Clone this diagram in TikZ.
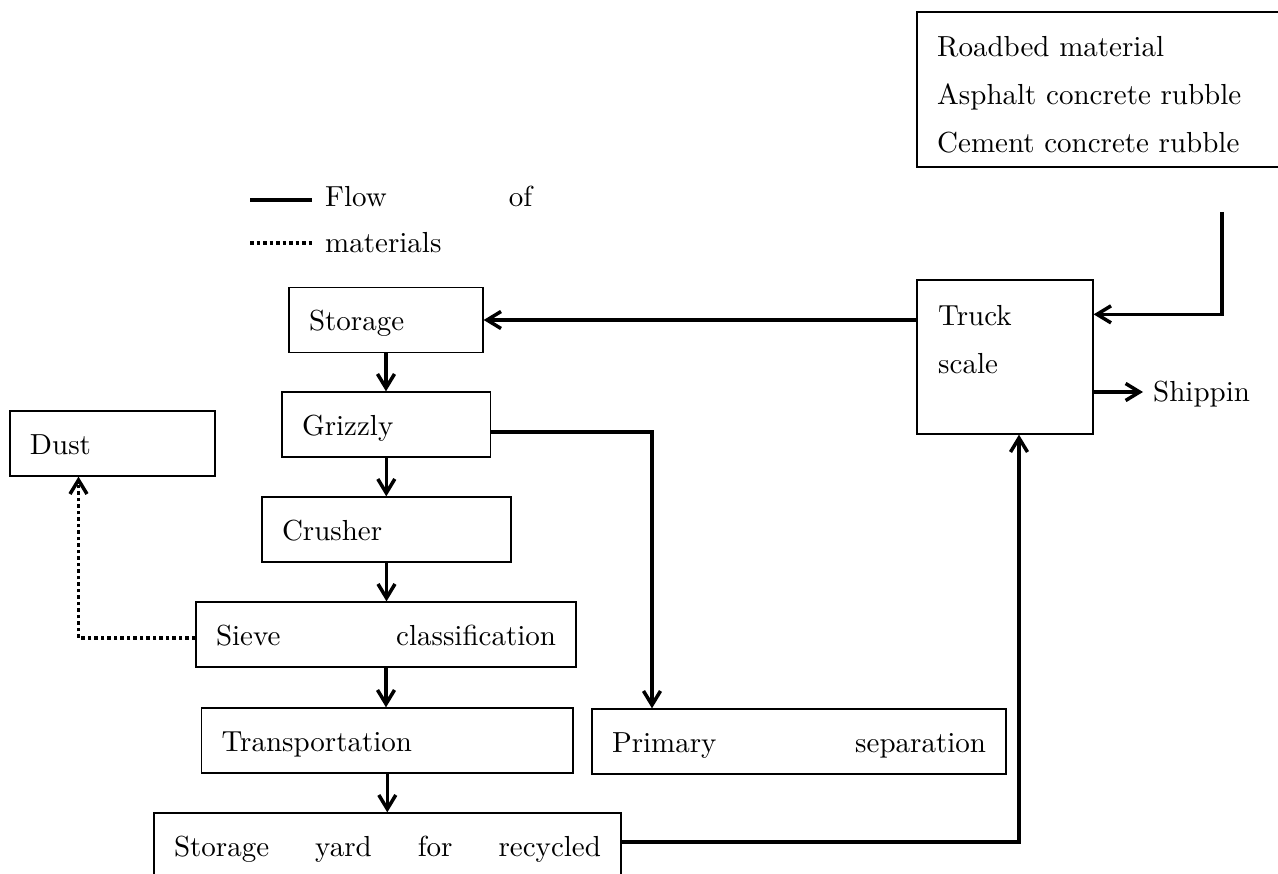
\documentclass[tikz,border=0pt]{standalone}
\usepackage{fontspec}
\setmainfont{lmroman10-regular.otf}
\usetikzlibrary{arrows.meta,calc}

\begin{document}
\begin{tikzpicture}[x=1pt,y=-1pt,
  font=\fontsize{29}{48}\selectfont,
  box/.style={draw, line width=1.3pt, inner xsep=20pt, inner ysep=0pt,
    text height=22pt, text depth=0pt, align=left, minimum height=65pt},
  txt/.style={anchor=base west, inner sep=0pt, align=left},
  barb/.style={-{Straight Barb[length=14pt,width=17pt]}},
  flow/.style={line width=3.5pt, barb},
  dotflow/.style={line width=3.5pt, dash pattern=on 3.5pt off 3pt, barb},
  dotline/.style={line width=3.5pt, dash pattern=on 3.5pt off 3pt}]

\useasboundingbox (0,0) rectangle (1278,874);
\clip (0,0) rectangle (1278,874);

% raw material box (runs past the right edge)
\node[box, text width=343pt, minimum height=155pt] (src) at (1108.5,89.5) {};
% multi-line texts: the anchor sits on the baseline of the last line
\node[txt] (srctxt) at (937,152.5)
  {Roadbed material\\Asphalt concrete rubble\\Cement concrete rubble};

% legend
\coordinate (legA) at (250,200);
\coordinate (legB) at (312,200);
\coordinate (legC) at (250,243);
\coordinate (legD) at (312,243);
\draw[line width=3.5pt] (legA) -- (legB);
\draw[dotline] (legC) -- (legD);
\node[txt] (legflow) at (325,207) {\makebox[207pt]{Flow\hfill of}};
\node[txt] (legmat) at (325,253) {materials};

% truck scale
\node[box, text width=136pt, minimum height=154pt] (truck) at (1005,357) {};
\node[txt] (trucktxt) at (938,373.5) {Truck\\scale};
\node[txt] (ship) at (1153,402) {Shippin};

% process chain
\node[box, text width=154pt] (stor) at (386,320) {Storage};
\node[box, text width=168.6pt] (griz) at (386.3,424.5) {Grizzly};
\node[box, text width=209pt] (crush) at (386.5,529.5) {Crusher};
\node[box, text width=340pt] (sieve) at (386,634.5)
  {\makebox[340pt]{Sieve\hfill classification}};
\node[box, text width=331.4pt] (trans) at (387.3,740.5) {Transportation};
\node[box, text width=427pt] (yard) at (387.5,845.5)
  {\makebox[427pt]{Storage\hfill yard\hfill for\hfill recycled}};
\node[box, text width=374pt] (prim) at (799,741.5)
  {\makebox[374pt]{Primary\hfill separation}};
\node[box, text width=165pt] (dust) at (112.5,443.5) {Dust};

% connectors
\coordinate (feed) at (1222,212);
\draw[flow] (feed) |- ($(truck.north east)+(0,35)$);
\coordinate (shipY) at (1143,392);
\draw[flow] (truck.east |- shipY) -- (shipY);
\draw[flow] (truck.west |- stor.east) -- (stor.east);

\draw[flow] (stor.south) -- (stor.south |- griz.north);
\draw[flow] (griz.south) -- (griz.south |- crush.north);
\draw[flow] (crush.south) -- (crush.south |- sieve.north);
\draw[flow] (sieve.south) -- (sieve.south |- trans.north);
\draw[flow] (trans.south) -- (trans.south |- yard.north);

\coordinate (gturn) at (652,432);
\draw[flow] (gturn -| griz.east) -| (gturn |- prim.north);

\coordinate (dturn) at (78.5,638);
\draw[dotflow] (dturn -| sieve.west) -| (dturn |- dust.south);

\coordinate (yturn) at (1019,842);
\draw[flow] (yturn -| yard.east) -| (yturn |- truck.south);
\end{tikzpicture}
\end{document}
